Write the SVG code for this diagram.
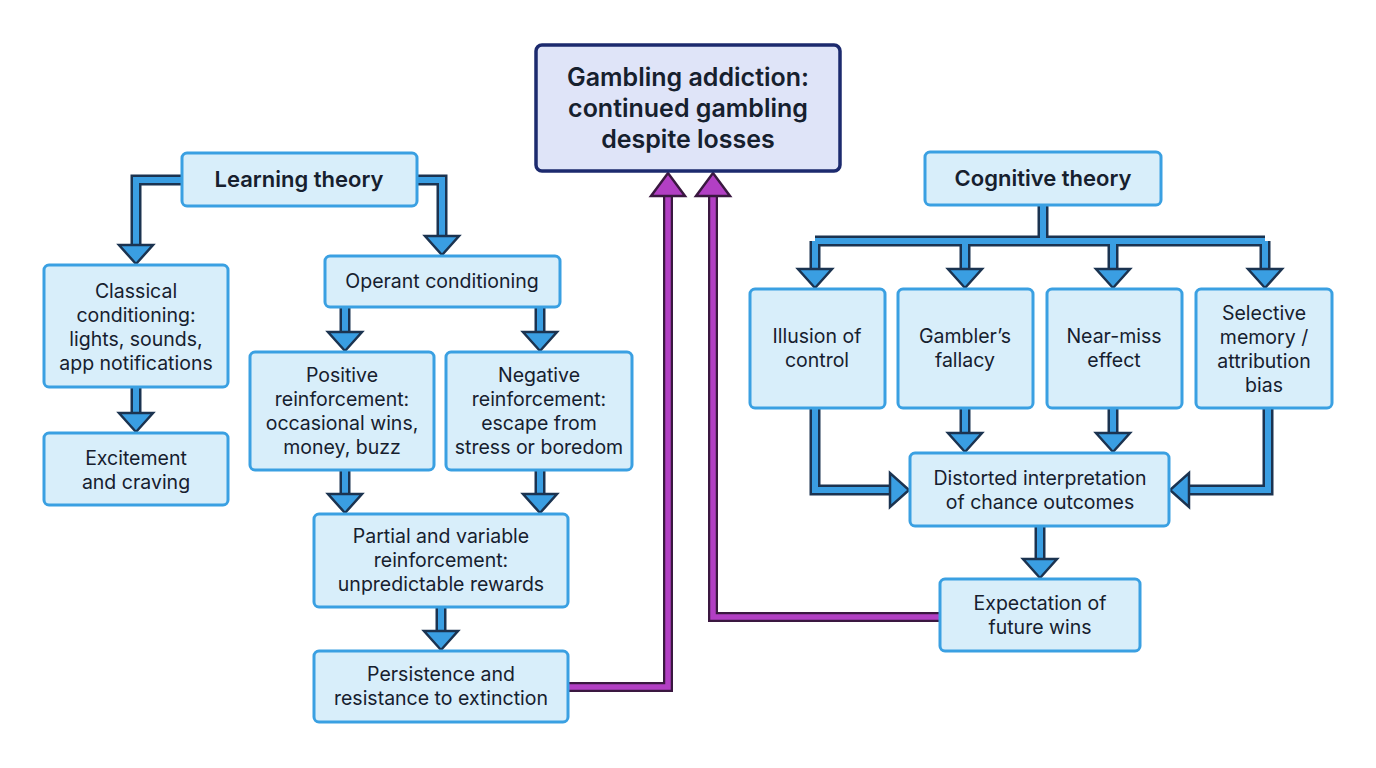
<svg xmlns="http://www.w3.org/2000/svg" width="1376" height="768" viewBox="0 0 1376 768">
<style>
.n{fill:#d8eefa;stroke:#3aa0e2;stroke-width:3}
.m{fill:#dfe4f8;stroke:#1c2a6e;stroke-width:3.5}
text{font-family:Inter,"Noto Sans",sans-serif;fill:#16202e;text-anchor:middle}
.t{font-size:19.5px}
.h{font-size:22px;font-weight:600}
.big{font-size:25px;font-weight:600}
.o{fill:none;stroke:#1b3350;stroke-width:11;stroke-linejoin:miter}
.i{fill:none;stroke:#3a9ee2;stroke-width:6;stroke-linejoin:miter}
.po{fill:none;stroke:#3a1840;stroke-width:10}
.pi{fill:none;stroke:#b23fc4;stroke-width:5.5}
.hd{fill:#3a9ee2;stroke:#1b3350;stroke-width:2.5;stroke-linejoin:miter}
.ph{fill:#b23fc4;stroke:#3a1840;stroke-width:2.5;stroke-linejoin:miter}
</style>
<rect width="1376" height="768" fill="#fff"/>
<g id="connectors">
<g class="o">
<path d="M184 180H136V247"/><path d="M415 180H442V238"/><path d="M136 387V415"/>
<path d="M345 307V334"/><path d="M540 307V334"/><path d="M345 470V496"/><path d="M540 470V496"/><path d="M441 607V633"/>
<path d="M1043 205V241M815 241H1265M815 241V271M965 241V271M1113 241V271M1265 241V271"/>
<path d="M815 408V490H892"/><path d="M965 408V435"/><path d="M1113 408V435"/><path d="M1268 408V490H1187"/><path d="M1040 526V561"/>
</g>
<g class="i">
<path d="M184 180H136V249"/><path d="M415 180H442V240"/><path d="M136 387V417"/>
<path d="M345 307V336"/><path d="M540 307V336"/><path d="M345 470V498"/><path d="M540 470V498"/><path d="M441 607V635"/>
<path d="M1043 205V241M815 241H1265M815 241V273M965 241V273M1113 241V273M1265 241V273"/>
<path d="M815 408V490H894"/><path d="M965 408V437"/><path d="M1113 408V437"/><path d="M1268 408V490H1185"/><path d="M1040 526V563"/>
</g>
<g class="hd">
<polygon points="119,245 153,245 136,264"/><polygon points="425,236 459,236 442,255"/><polygon points="119,413 153,413 136,432"/>
<polygon points="328,332 362,332 345,351"/><polygon points="523,332 557,332 540,351"/>
<polygon points="328,494 362,494 345,513"/><polygon points="523,494 557,494 540,513"/><polygon points="424,631 458,631 441,650"/>
<polygon points="798,269 832,269 815,288"/><polygon points="948,269 982,269 965,288"/><polygon points="1096,269 1130,269 1113,288"/><polygon points="1248,269 1282,269 1265,288"/>
<polygon points="890,473 890,507 909,490"/><polygon points="948,433 982,433 965,452"/><polygon points="1096,433 1130,433 1113,452"/>
<polygon points="1189,473 1189,507 1170,490"/><polygon points="1023,559 1057,559 1040,578"/>
</g>
<path class="po" d="M568 687H668V194"/><path class="po" d="M940 617H713V194"/>
<path class="pi" d="M568 687H668V192"/><path class="pi" d="M940 617H713V192"/>
<polygon class="ph" points="651,196 685,196 668,173"/><polygon class="ph" points="696,196 730,196 713,173"/>
</g>
<g id="main"><rect class="m" x="536" y="45" width="304" height="126" rx="6"/><text class="big" x="688" y="86">Gambling addiction:</text><text class="big" x="688" y="117">continued gambling</text><text class="big" x="688" y="148">despite losses</text></g>
<g id="learning"><rect class="n" x="182" y="153" width="235" height="53" rx="5"/><text class="h" x="299" y="187">Learning theory</text></g>
<g id="classical"><rect class="n" x="44" y="265" width="184" height="122" rx="5"/><text class="t" x="136" y="298">Classical</text><text class="t" x="136" y="322">conditioning:</text><text class="t" x="136" y="346">lights, sounds,</text><text class="t" x="136" y="370">app notifications</text></g>
<g id="excitement"><rect class="n" x="44" y="433" width="184" height="72" rx="5"/><text class="t" x="136" y="465">Excitement</text><text class="t" x="136" y="489">and craving</text></g>
<g id="operant"><rect class="n" x="325" y="256" width="235" height="51" rx="5"/><text class="t" x="442" y="288">Operant conditioning</text></g>
<g id="positive"><rect class="n" x="250" y="352" width="184" height="118" rx="5"/><text class="t" x="342" y="382">Positive</text><text class="t" x="342" y="406">reinforcement:</text><text class="t" x="342" y="430">occasional wins,</text><text class="t" x="342" y="454">money, buzz</text></g>
<g id="negative"><rect class="n" x="446" y="352" width="186" height="118" rx="5"/><text class="t" x="539" y="382">Negative</text><text class="t" x="539" y="406">reinforcement:</text><text class="t" x="539" y="430">escape from</text><text class="t" x="539" y="454">stress or boredom</text></g>
<g id="partial"><rect class="n" x="314" y="514" width="254" height="93" rx="5"/><text class="t" x="441" y="543">Partial and variable</text><text class="t" x="441" y="567">reinforcement:</text><text class="t" x="441" y="591">unpredictable rewards</text></g>
<g id="persistence"><rect class="n" x="314" y="651" width="254" height="71" rx="5"/><text class="t" x="441" y="681">Persistence and</text><text class="t" x="441" y="705">resistance to extinction</text></g>
<g id="cognitive"><rect class="n" x="925" y="152" width="236" height="53" rx="5"/><text class="h" x="1043" y="186">Cognitive theory</text></g>
<g id="illusion"><rect class="n" x="750" y="289" width="135" height="119" rx="5"/><text class="t" x="817" y="343">Illusion of</text><text class="t" x="817" y="367">control</text></g>
<g id="gambler"><rect class="n" x="898" y="289" width="135" height="119" rx="5"/><text class="t" x="965" y="343">Gambler’s</text><text class="t" x="965" y="367">fallacy</text></g>
<g id="nearmiss"><rect class="n" x="1047" y="289" width="135" height="119" rx="5"/><text class="t" x="1114" y="343">Near-miss</text><text class="t" x="1114" y="367">effect</text></g>
<g id="selective"><rect class="n" x="1196" y="289" width="136" height="119" rx="5"/><text class="t" x="1264" y="320">Selective</text><text class="t" x="1264" y="344">memory /</text><text class="t" x="1264" y="368">attribution</text><text class="t" x="1264" y="392">bias</text></g>
<g id="distorted"><rect class="n" x="910" y="453" width="259" height="73" rx="5"/><text class="t" x="1040" y="485">Distorted interpretation</text><text class="t" x="1040" y="509">of chance outcomes</text></g>
<g id="expectation"><rect class="n" x="940" y="579" width="200" height="72" rx="5"/><text class="t" x="1040" y="610">Expectation of</text><text class="t" x="1040" y="634">future wins</text></g>
</svg>
